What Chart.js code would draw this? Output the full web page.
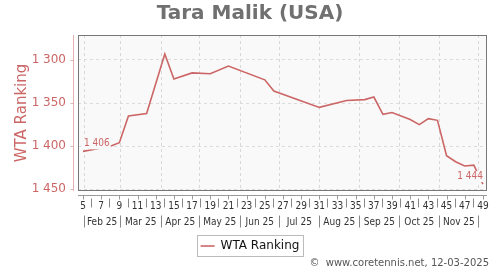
<!DOCTYPE html>
<html>
<head>
<meta charset="utf-8">
<script src="https://cdn.jsdelivr.net/npm/chart.js@4/dist/chart.umd.min.js"></script>
<style>
  html, body { margin: 0; padding: 0; background: #fff; }
  #wrap { width: 500px; height: 270px; position: relative; }
</style>
</head>
<body>
<div id="wrap"><canvas id="rankChart"></canvas></div>
<script>
// data
const playerName = 'Tara Malik (USA)';
const seriesName = 'WTA Ranking';
const weeks = [5, 8, 9, 10, 12, 14, 15, 17, 19, 21, 25, 26, 31, 34, 36, 37, 38, 39, 41, 42, 43, 44, 45, 46, 47, 48, 49];
const ranks = [1406, 1400, 1396, 1365, 1362, 1293, 1322, 1315, 1316, 1307, 1323, 1336, 1355, 1347, 1346, 1343, 1363, 1361, 1369, 1375, 1368, 1370, 1411, 1418, 1423, 1422, 1444];
const weekTicks = [5, 7, 9, 11, 13, 15, 17, 19, 21, 23, 25, 27, 29, 31, 33, 35, 37, 39, 41, 43, 45, 47, 49];
const weekSeparators = [6, 8, 10, 12, 14, 16, 18, 20, 22, 24, 26, 28, 30, 32, 34, 36, 38, 40, 42, 44, 46, 48];
const rankTicks = [1300, 1350, 1400, 1450];
const monthBounds = [5.1, 9.1, 13.6, 17.8, 22.3, 26.6, 31.0, 35.4, 39.8, 44.2, 48.5];
const monthLabels = ['Feb 25', 'Mar 25', 'Apr 25', 'May 25', 'Jun 25', 'Jul 25', 'Aug 25', 'Sep 25', 'Oct 25', 'Nov 25'];
const credit = '\u00a9  www.coretennis.net, 12-03-2025';

const RED = '#cc6666';
const monthCenters = monthLabels.map((m, i) => (monthBounds[i] + monthBounds[i + 1]) / 2);

function fmt(n) {
  return String(n).replace(/\B(?=(\d{3})+(?!\d))/g, ' ');
}

Chart.defaults.font.family = 'DejaVu Sans';
Chart.defaults.color = '#333';

// frame, axis lines, separators, month grid, point labels, credit
const decor = {
  id: 'decor',
  beforeDraw(chart) {
    const {ctx, chartArea: a} = chart;
    ctx.save();
    ctx.fillStyle = '#f9f9f9';
    ctx.fillRect(a.left, a.top, a.right - a.left, a.bottom - a.top);
    ctx.restore();
  },
  beforeDatasetsDraw(chart) {
    const {ctx, chartArea: a} = chart;
    const x = chart.scales.x;
    ctx.save();
    ctx.strokeStyle = '#d8d8d8';
    ctx.lineWidth = 1;
    ctx.setLineDash([3, 3]);
    monthBounds.forEach(b => {
      const px = Math.round(x.getPixelForValue(b)) + 0.5;
      ctx.beginPath();
      ctx.moveTo(px, a.top);
      ctx.lineTo(px, a.bottom);
      ctx.stroke();
    });
    ctx.restore();
  },
  afterDraw(chart) {
    const {ctx, chartArea: a} = chart;
    const x = chart.scales.x, y = chart.scales.y;
    ctx.save();
    // plot frame
    ctx.strokeStyle = '#777';
    ctx.lineWidth = 1;
    ctx.strokeRect(Math.round(a.left) + 0.5, Math.round(a.top) + 0.5,
      Math.round(a.right - a.left) - 1, Math.round(a.bottom - a.top) - 1);

    // y axis line + ticks
    const yl = Math.round(a.left) - 4.5;
    ctx.strokeStyle = '#e3b3b3';
    ctx.beginPath();
    ctx.moveTo(yl, a.top);
    ctx.lineTo(yl, a.bottom);
    rankTicks.forEach(t => {
      const py = Math.round(y.getPixelForValue(t)) + 0.5;
      ctx.moveTo(yl - 3, py);
      ctx.lineTo(yl, py);
    });
    ctx.stroke();

    // x axis line + ticks
    const xl = Math.round(a.bottom) + 4.5;
    ctx.strokeStyle = '#999';
    ctx.beginPath();
    ctx.moveTo(a.left, xl);
    ctx.lineTo(a.right, xl);
    weekTicks.forEach(t => {
      const px = Math.round(x.getPixelForValue(t)) + 0.5;
      ctx.moveTo(px, xl);
      ctx.lineTo(px, xl + 4);
    });
    ctx.stroke();

    // separators between week labels and month labels
    ctx.strokeStyle = '#888';
    ctx.beginPath();
    weekSeparators.forEach(w => {
      const px = Math.round(x.getPixelForValue(w - 0.1)) + 0.5;
      ctx.moveTo(px, xl + 3);
      ctx.lineTo(px, xl + 12);
    });
    monthBounds.forEach(b => {
      const px = Math.round(x.getPixelForValue(b)) + 0.5;
      ctx.moveTo(px, xl + 20);
      ctx.lineTo(px, xl + 32);
    });
    ctx.stroke();

    // labels on first and last point
    const meta = chart.getDatasetMeta(0);
    ctx.font = '10px "DejaVu Sans Condensed", "DejaVu Sans"';
    ctx.textBaseline = 'middle';
    [0, ranks.length - 1].forEach(i => {
      const p = meta.data[i];
      const txt = fmt(ranks[i]);
      const w = ctx.measureText(txt).width;
      const left = i === 0 ? p.x + 1 : p.x - w;
      const cy = p.y - 8;
      ctx.fillStyle = '#f9f9f9';
      ctx.fillRect(left - 1, cy - 5, w + 2, 11);
      ctx.fillStyle = RED;
      ctx.textAlign = 'left';
      ctx.fillText(txt, left, cy);
    });

    // legend frame
    const lg = chart.legend;
    if (lg && lg.legendHitBoxes && lg.legendHitBoxes.length) {
      const hb = lg.legendHitBoxes[0];
      ctx.strokeStyle = '#bbb';
      ctx.strokeRect(Math.round(hb.left) - 3.5, Math.round(hb.top + hb.height / 2) - 10.5,
        Math.round(hb.width) + 7, 21);
    }

    // credit line
    ctx.font = '10px "DejaVu Sans"';
    ctx.fillStyle = '#555';
    ctx.textAlign = 'right';
    ctx.textBaseline = 'middle';
    ctx.fillText(credit, 489, 263);
    ctx.restore();
  }
};

new Chart(document.getElementById('rankChart'), {
  type: 'line',
  data: {
    datasets: [{
      label: seriesName,
      data: weeks.map((w, i) => ({x: w, y: ranks[i]})),
      borderColor: RED,
      backgroundColor: RED,
      borderWidth: 1.6,
      pointRadius: 0,
      pointStyle: 'line',
      tension: 0
    }]
  },
  options: {
    responsive: true,
    maintainAspectRatio: false,
    animation: false,
    layout: { padding: { left: 0, right: 0, top: 0, bottom: 8 } },
    plugins: {
      title: {
        display: true,
        text: playerName,
        color: '#707070',
        font: { size: 20, weight: 'bold' },
        padding: { top: 2, bottom: 9 }
      },
      legend: {
        display: true,
        position: 'bottom',
        labels: {
          color: '#111',
          font: { size: 12 },
          usePointStyle: true,
          pointStyle: 'line',
          pointStyleWidth: 14,
          boxWidth: 14,
          boxHeight: 12,
          padding: 10
        }
      },
      tooltip: { enabled: false }
    },
    scales: {
      x: {
        type: 'linear',
        position: 'bottom',
        weight: 0,
        min: 4.45,
        max: 49.45,
        grid: { display: false, drawTicks: false },
        border: { display: false },
        afterBuildTicks: s => { s.ticks = weekTicks.map(v => ({value: v})); },
        ticks: {
          autoSkip: false,
          maxRotation: 0,
          padding: 9,
          color: '#333',
          font: { size: 10, family: '"DejaVu Sans Condensed", "DejaVu Sans"' },
          callback: v => String(v)
        },
        afterFit: s => { s.height = 22; }
      },
      xm: {
        type: 'linear',
        position: 'bottom',
        weight: 1,
        min: 4.45,
        max: 49.45,
        grid: { display: false, drawTicks: false },
        border: { display: false },
        afterBuildTicks: s => { s.ticks = monthCenters.map(v => ({value: v})); },
        ticks: {
          autoSkip: false,
          maxRotation: 0,
          padding: 3,
          color: '#333',
          font: { size: 10, family: '"DejaVu Sans Condensed", "DejaVu Sans"' },
          callback: (v, i) => monthLabels[i]
        },
        afterFit: s => { s.height = 17; }
      },
      y: {
        type: 'linear',
        reverse: true,
        min: 1271,
        max: 1452,
        grid: { color: '#dcdcdc', drawTicks: false },
        border: { display: false, dash: [3, 3] },
        afterBuildTicks: s => { s.ticks = rankTicks.map(v => ({value: v})); },
        ticks: {
          padding: 12,
          color: RED,
          font: { size: 12 },
          callback: v => fmt(v)
        },
        title: {
          display: true,
          text: seriesName,
          color: RED,
          font: { size: 15 },
          padding: { top: 13, bottom: 0 }
        },
        afterFit: s => { s.width = 78; }
      },
      y2: {
        type: 'linear',
        position: 'right',
        display: true,
        grid: { display: false, drawTicks: false },
        border: { display: false },
        ticks: { display: false },
        afterFit: s => { s.width = 13; }
      }
    }
  },
  plugins: [decor]
});
</script>
</body>
</html>
